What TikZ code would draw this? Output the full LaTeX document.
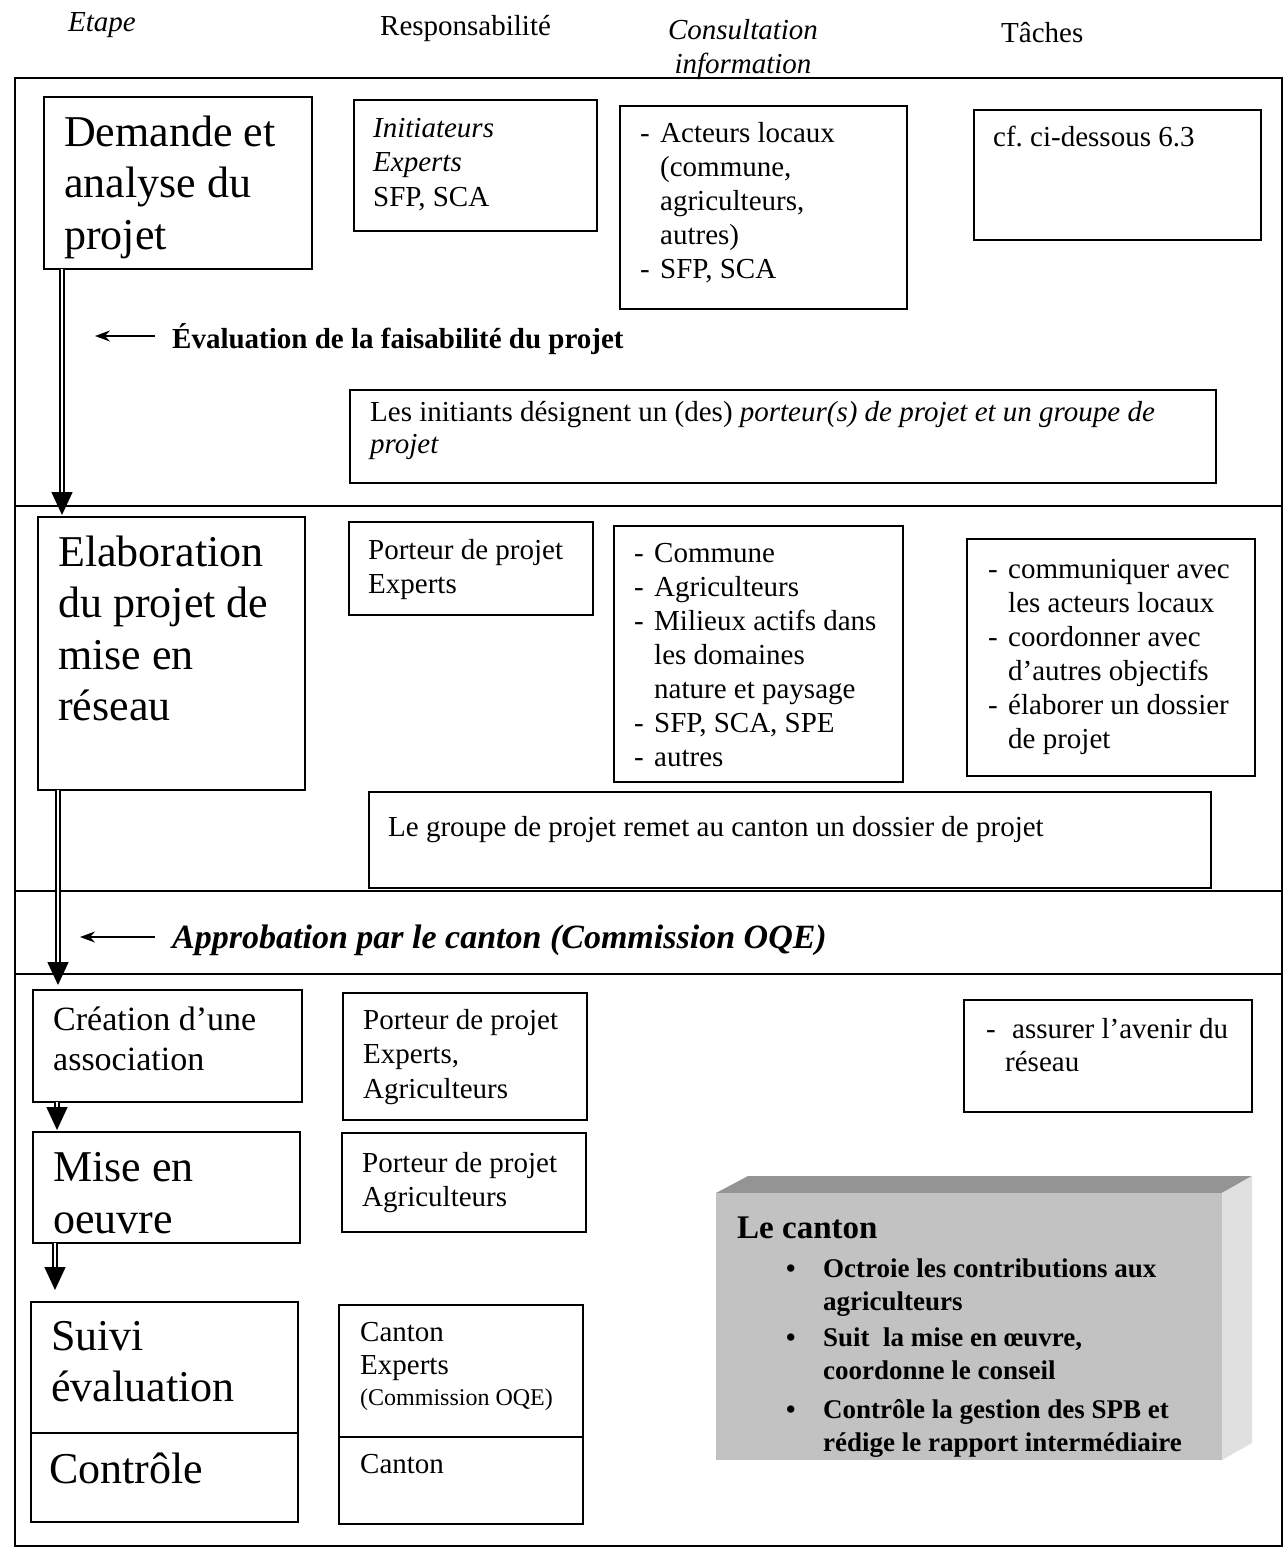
\documentclass[tikz,border=0pt]{standalone}
\usepackage{fontspec}
\setmainfont{Liberation Serif}
\usetikzlibrary{arrows.meta}
\newcommand{\fl}{\rule{0pt}{1em}}
\newcommand{\dl}{\makebox[20pt][l]{-}}
\newcommand{\ind}{\hspace*{20pt}}
\frenchspacing
\begin{document}
\begin{tikzpicture}[x=1pt,y=-1pt,
  box/.style={draw, line width=1.4pt, anchor=north west, inner sep=0, outer sep=0},
  txt/.style={anchor=north west, inner sep=0, align=left},
  one/.style={anchor=base west, inner sep=0},
  fn/.style={font=\fontsize{29}{34.5}\selectfont},
  big/.style={font=\fontsize{44}{51.5}\selectfont},
  flow/.style={line width=1.5pt, double distance=2.6pt, -{Triangle[width=21pt,length=23pt]}},
  back/.style={line width=1.1pt, {Stealth[length=15pt,width=11pt]}-}]
\useasboundingbox (0,0) rectangle (1286,1551);
% outer frame and separators
\draw[line width=1.6pt] (15,78) rectangle (1282,1546);
\draw[line width=1.3pt] (15,506) -- (1282,506);
\draw[line width=1.3pt] (15,891) -- (1282,891);
\draw[line width=1.3pt] (15,974) -- (1282,974);
% headers
\node[one, font=\fontsize{29}{34.5}\selectfont\itshape] (hEtape) at (68,31) {Etape};
\node[one, fn] (hResp) at (380,35) {Responsabilité};
\node[txt, anchor=north, align=center, font=\fontsize{29}{34}\selectfont\itshape] (hCons) at (743,10) {\fl Consultation\\information};
\node[one, fn] (hTaches) at (1001,42) {Tâches};
% row 1
\node[box, minimum width=268, minimum height=172] (demande) at (44,97) {};
\node[txt, big] (demandeT) at (64,102) {\fl Demande et\\analyse du\\projet};
\node[box, minimum width=243, minimum height=131] (init) at (354,100) {};
\node[txt, fn] (initT) at (373,108) {\fl\textit{Initiateurs}\\\textit{Experts}\\SFP, SCA};
\node[box, minimum width=287, minimum height=203] (acteurs) at (620,106) {};
\node[txt, font=\fontsize{29}{34}\selectfont] (acteursT) at (640,113) {\fl\dl Acteurs locaux\\\ind(commune,\\\ind agriculteurs,\\\ind autres)\\\dl SFP, SCA};
\node[box, minimum width=287, minimum height=130] (cf) at (974,110) {};
\node[one, fn] (cfT) at (993,146) {cf. ci-dessous 6.3};
% evaluation
\node[one, font=\fontsize{29}{34}\selectfont\bfseries] (evalT) at (172,348) {Évaluation de la faisabilité du projet};
\coordinate (evalA) at (155,336);
\coordinate (evalB) at (95,336);
\draw[back] (evalB) -- (evalA);
\node[box, minimum width=866, minimum height=93] (initiants) at (350,390) {};
\node[txt, font=\fontsize{29}{32}\selectfont] (initiantsT) at (370,392) {\fl Les initiants désignent un (des) \textit{porteur(s) de projet et un groupe de}\\\textit{projet}};
% row 2
\node[box, minimum width=267, minimum height=273] (elab) at (38,517) {};
\node[txt, big] (elabT) at (58,522) {\fl Elaboration\\du projet de\\mise en\\réseau};
\node[box, minimum width=244, minimum height=93] (porteurA) at (349,522) {};
\node[txt, fn] (porteurAT) at (368,530) {\fl Porteur de projet\\Experts};
\node[box, minimum width=289, minimum height=256] (commune) at (614,526) {};
\node[txt, font=\fontsize{29}{34}\selectfont] (communeT) at (634,533) {\fl\dl Commune\\\dl Agriculteurs\\\dl Milieux actifs dans\\\ind les domaines\\\ind nature et paysage\\\dl SFP, SCA, SPE\\\dl autres};
\node[box, minimum width=288, minimum height=237] (taches) at (967,539) {};
\node[txt, font=\fontsize{29}{34}\selectfont] (tachesT) at (988,549) {\fl\dl communiquer avec\\\ind les acteurs locaux\\\dl coordonner avec\\\ind d’autres objectifs\\\dl élaborer un dossier\\\ind de projet};
\node[box, minimum width=842, minimum height=96] (groupe) at (369,792) {};
\node[one, fn] (groupeT) at (388,836) {Le groupe de projet remet au canton un dossier de projet};
% approbation
\node[one, font=\fontsize{34}{39}\selectfont\bfseries\itshape] (approT) at (172,948) {Approbation par le canton (Commission OQE)};
\coordinate (approA) at (155,937);
\coordinate (approB) at (80,937);
\draw[back] (approB) -- (approA);
% row 3
\node[box, minimum width=269, minimum height=112] (creation) at (33,990) {};
\node[txt, font=\fontsize{34}{40}\selectfont] (creationT) at (53,996) {\fl Création d’une\\association};
\node[box, minimum width=244, minimum height=127] (porteurB) at (343,993) {};
\node[txt, fn] (porteurBT) at (363,1000) {\fl Porteur de projet\\Experts,\\Agriculteurs};
\node[box, minimum width=288, minimum height=112] (avenir) at (964,1000) {};
\node[txt, font=\fontsize{29}{33}\selectfont] (avenirT) at (986,1009) {\fl\makebox[26pt][l]{-}assurer l’avenir du\\\hspace*{19pt}réseau};
\node[box, minimum width=267, minimum height=111] (mise) at (33,1132) {};
\node[txt, font=\fontsize{44}{52}\selectfont] (miseT) at (53,1137) {\fl Mise en\\oeuvre};
\node[box, minimum width=244, minimum height=99] (porteurC) at (342,1133) {};
\node[txt, fn] (porteurCT) at (362,1143) {\fl Porteur de projet\\Agriculteurs};
\node[box, minimum width=267, minimum height=131] (suiviA) at (31,1302) {};
\node[box, minimum width=267, minimum height=89] (suiviB) at (31,1433) {};
\node[txt, font=\fontsize{44}{51}\selectfont] (suiviT) at (51,1306) {\fl Suivi\\évaluation};
\node[one, big] (controleT) at (49,1483) {Contrôle};
\node[box, minimum width=244, minimum height=132] (cantonA) at (339,1305) {};
\node[box, minimum width=244, minimum height=87] (cantonB) at (339,1437) {};
\node[txt, font=\fontsize{29}{33}\selectfont] (cantonAT) at (360,1312) {\fl Canton\\Experts};
\node[one, font=\fontsize{24}{28}\selectfont] (oqeT) at (360,1405) {(Commission OQE)};
\node[one, fn] (cantonBT) at (360,1473) {Canton};
% flow arrows
\draw[flow] ([xshift=18pt]demande.south west) -- ([xshift=24pt,yshift=2pt]elab.north west);
\draw[flow] ([xshift=20pt]elab.south west) -- ([xshift=25pt,yshift=5pt]creation.north west);
\draw[flow] ([xshift=24pt]creation.south west) -- ([xshift=24pt,yshift=2pt]mise.north west);
\draw[flow] ([xshift=22pt]mise.south west) -- ([xshift=24pt,yshift=12pt]suiviA.north west);
% canton 3D box
\fill[black!42] (716,1193) -- (748,1176) -- (1252,1176) -- (1222,1193) -- cycle;
\fill[black!12] (1222,1193) -- (1252,1176) -- (1252,1443) -- (1222,1460) -- cycle;
\fill[black!24] (716,1193) rectangle (1222,1460);
\node[one, font=\fontsize{33}{38}\selectfont\bfseries] (leCanton) at (737,1238) {Le canton};
\node[txt, font=\fontsize{27}{33}\selectfont\bfseries] (cb1) at (786,1250) {\fl\makebox[37pt][l]{\textbullet}Octroie les contributions aux\\\hspace*{37pt}agriculteurs};
\node[txt, font=\fontsize{27}{33}\selectfont\bfseries] (cb2) at (786,1319) {\fl\makebox[37pt][l]{\textbullet}Suit\enspace la mise en œuvre,\\\hspace*{37pt}coordonne le conseil};
\node[txt, font=\fontsize{27}{33}\selectfont\bfseries] (cb3) at (786,1391) {\fl\makebox[37pt][l]{\textbullet}Contrôle la gestion des SPB et\\\hspace*{37pt}rédige le rapport intermédiaire};
\end{tikzpicture}
\end{document}
